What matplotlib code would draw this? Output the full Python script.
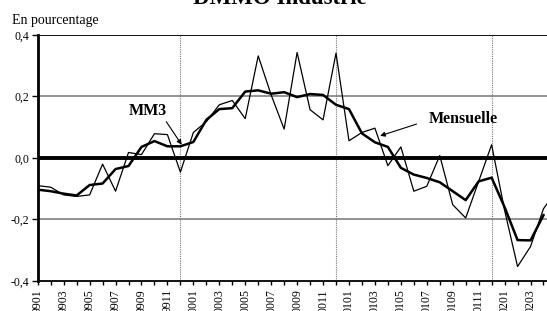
import matplotlib
matplotlib.use("Agg")
import matplotlib.pyplot as plt

# months from 9901 to 0205 (last one falls just outside the crop)
months = ["9901", "9902", "9903", "9904", "9905", "9906", "9907", "9908", "9909", "9910",
          "9911", "9912", "0001", "0002", "0003", "0004", "0005", "0006", "0007", "0008",
          "0009", "0010", "0011", "0012", "0101", "0102", "0103", "0104", "0105", "0106",
          "0107", "0108", "0109", "0110", "0111", "0112", "0201", "0202", "0203", "0204",
          "0205"]

mensuelle = [-0.090, -0.095, -0.120, -0.125, -0.120, -0.020, -0.108, 0.018, 0.011, 0.079,
             0.076, -0.046, 0.083, 0.118, 0.173, 0.187, 0.128, 0.332, 0.205, 0.094,
             0.343, 0.157, 0.124, 0.341, 0.056, 0.083, 0.097, -0.025, 0.036, -0.108,
             -0.092, 0.008, -0.152, -0.195, -0.076, 0.043, -0.170, -0.353, -0.288, -0.165,
             -0.106]

mm3 = [-0.103, -0.108, -0.116, -0.122, -0.088, -0.083, -0.036, -0.026, 0.036, 0.055,
       0.038, 0.038, 0.052, 0.124, 0.159, 0.162, 0.216, 0.220, 0.209, 0.214,
       0.198, 0.208, 0.205, 0.173, 0.159, 0.080, 0.051, 0.036, -0.032, -0.054,
       -0.065, -0.079, -0.108, -0.137, -0.076, -0.064, -0.160, -0.267, -0.268, -0.186]

year_ends = ["9912", "0012", "0112"]
y_ticks = [-0.4, -0.2, 0.0, 0.2, 0.4]
y_labels = ["-0,4", "-0,2", "0,0", "0,2", "0,4"]

plt.rcParams['font.family'] = ['Liberation Serif', 'DejaVu Serif']

fig = plt.figure(figsize=(5.47, 3.11), dpi=100)
ax = fig.add_axes([0.069, 0.0965, 0.931, 0.791])

x_m = list(range(len(mensuelle)))
x_mm3 = list(range(len(mm3)))

# grid lines
ax.axhline(0.2, color='#808080', lw=1.2, zorder=1)
ax.axhline(-0.2, color='#808080', lw=1.2, zorder=1)
ax.axhline(0.4, color='black', lw=1.3, zorder=1)
for m in year_ends:
    ax.axvline(months.index(m), color='#777777', lw=0.8, ls=(0, (1, 1)), zorder=1)
ax.axhline(0.0, color='black', lw=2.8, zorder=2)

ax.plot(x_m, mensuelle, color='black', lw=0.9, zorder=3)
ax.plot(x_mm3, mm3, color='black', lw=1.8, zorder=4)

ax.set_xlim(0, 39.27)
ax.set_ylim(-0.4, 0.4)

ax.set_yticks(y_ticks)
ax.set_yticklabels(y_labels, fontsize=8.5)
ax.set_xticks(x_mm3)
ax.set_xticklabels([lab if i % 2 == 0 else "" for i, lab in enumerate(months[:len(mm3)])],
                   rotation=90, fontsize=8.5)
ax.tick_params(axis='x', length=3, width=1, pad=3, direction='out')
ax.tick_params(axis='y', length=4, width=1, pad=2, direction='out')

for s in ['top', 'right']:
    ax.spines[s].set_visible(False)
ax.spines['left'].set_linewidth(2)
ax.spines['bottom'].set_linewidth(1.3)

ax.annotate("MM3", xy=(11.1, 0.043), xytext=(8.45, 0.153), ha='center', va='center',
            fontsize=11.5, fontweight='bold',
            arrowprops=dict(arrowstyle='-|>', color='black', lw=0.8,
                            mutation_scale=7, shrinkA=0, shrinkB=0, relpos=(0.95, 0.0)))
ax.annotate("Mensuelle", xy=(26.4, 0.072), xytext=(32.8, 0.128), ha='center', va='center',
            fontsize=11.5, fontweight='bold',
            arrowprops=dict(arrowstyle='-|>', color='black', lw=0.8,
                            mutation_scale=7, shrinkA=7, shrinkB=0, relpos=(0.0, 0.4)))

fig.text(12 / 547, 1 - 24 / 311, "En pourcentage", fontsize=10, va='baseline', ha='left')
fig.text(280 / 547, 1 - 4 / 311, "DMMO Industrie", fontsize=16.5, fontweight='bold',
         va='baseline', ha='center')

fig.savefig("out.png", dpi=100)
